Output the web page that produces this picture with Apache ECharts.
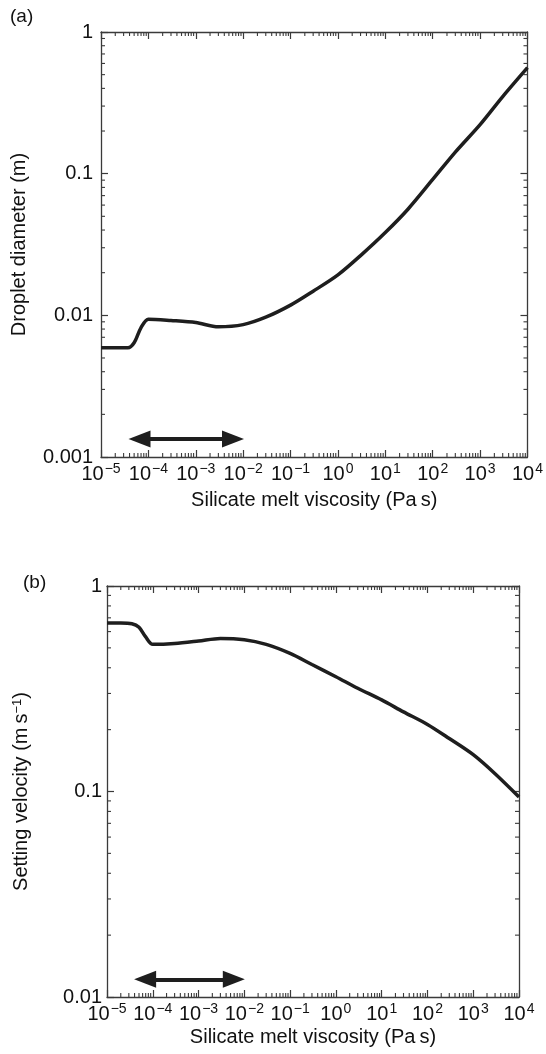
<!DOCTYPE html>
<html>
<head>
<meta charset="utf-8">
<script src="https://cdn.jsdelivr.net/npm/echarts@6/dist/echarts.min.js"></script>
<style>html,body{margin:0;padding:0;background:#fff;}#c{width:546px;height:1054px;}</style>
</head>
<body>
<div id="c"></div>
<script>
// ---- data ----
var topX = [1e-5, 2e-5, 3.7e-5, 5e-5, 7e-5, 1e-4, 3e-4, 1e-3, 3e-3, 1e-2, 3e-2, 1e-1, 3e-1, 1, 3, 10, 30, 100, 300, 1000, 3000, 1e4];
var topY = [0.0059, 0.0059, 0.0059, 0.0064, 0.0082, 0.0094, 0.0092, 0.0089, 0.0083, 0.0086, 0.0097, 0.0118, 0.0148, 0.0193, 0.0264, 0.0384, 0.0561, 0.091, 0.142, 0.222, 0.35, 0.56];
var botX = [1e-5, 2e-5, 3.5e-5, 5e-5, 7e-5, 1e-4, 3e-4, 1e-3, 3e-3, 1e-2, 3e-2, 1e-1, 3e-1, 1, 3, 10, 30, 100, 300, 1000, 3000, 1e4];
var botY = [0.66, 0.66, 0.655, 0.63, 0.565, 0.52, 0.525, 0.54, 0.556, 0.548, 0.52, 0.47, 0.415, 0.362, 0.318, 0.279, 0.244, 0.212, 0.181, 0.151, 0.122, 0.094];
// arrows (range annotations, head centres): [xStart, xEnd, y]
var topArrow = [6.5e-5, 6.1e-3, 0.00134];
var botArrow = [6.8e-5, 5.9e-3, 0.0122];
// axis ranges and tick labels
var xRange = [1e-5, 1e4];
var topYRange = [0.001, 1];
var botYRange = [0.01, 1];
var xTickExps = [-5, -4, -3, -2, -1, 0, 1, 2, 3, 4];
var topYTickLabels = ['0.001', '0.01', '0.1', '1'];
var botYTickLabels = ['0.01', '0.1', '1'];
var minorMult = [2, 3, 4, 5, 6, 7, 8, 9];

function minorVals(lo, hi) {
  var out = [];
  for (var e = Math.round(Math.log10(lo)); e < Math.round(Math.log10(hi)); e++) {
    for (var i = 0; i < minorMult.length; i++) out.push(minorMult[i] * Math.pow(10, e));
  }
  return out;
}

var FONT = 'Liberation Sans';
var AX = '#3a3a3a';
var chart = echarts.init(document.getElementById('c'));

function xLabel(v) {
  var e = Math.round(Math.log10(v));
  var s = e < 0 ? '\u2212' + (-e) : '' + e;
  return '{b|10}{s|' + s + '}';
}
function yLabelFor(labels, range) {
  return function (v) {
    var e = Math.round(Math.log10(v)) - Math.round(Math.log10(range[0]));
    return labels[e] !== undefined ? labels[e] : '';
  };
}

function xAxis(grid, pos, show, nameGap) {
  return {
    type: 'log', logBase: 10, gridIndex: grid, position: pos,
    min: xRange[0], max: xRange[1], interval: 1,
    name: show ? 'Silicate melt viscosity (Pa\u2009s)' : '', nameLocation: 'middle', nameGap: nameGap,
    nameTextStyle: { fontFamily: FONT, fontSize: 20, color: '#111' },
    axisLine: { show: true, onZero: false, lineStyle: { color: AX, width: 1.3 } },
    axisTick: { show: true, inside: true, length: 7, lineStyle: { color: AX, width: 1.2 } },
    axisLabel: {
      show: show, margin: 5, formatter: xLabel,
      rich: {
        b: { fontFamily: FONT, fontSize: 20, color: '#111', lineHeight: 22, verticalAlign: 'bottom' },
        s: { fontFamily: FONT, fontSize: 14, color: '#111', lineHeight: 14, verticalAlign: 'top', padding: [0, 0, 0, 1] }
      }
    },
    splitLine: { show: false }, minorTick: { show: false }
  };
}
function yAxis(grid, pos, show, range, labels, name, nameGap, margin) {
  return {
    type: 'log', logBase: 10, gridIndex: grid, position: pos,
    min: range[0], max: range[1], interval: 1,
    name: show ? name : '', nameLocation: 'middle', nameGap: nameGap,
    nameTextStyle: {
      fontFamily: FONT, fontSize: 20, color: '#111',
      rich: { n: { fontFamily: FONT, fontSize: 20, color: '#111' }, s: { fontFamily: FONT, fontSize: 13, color: '#111', verticalAlign: 'top', lineHeight: 12 } }
    },
    axisLine: { show: true, onZero: false, lineStyle: { color: AX, width: 1.3 } },
    axisTick: { show: true, inside: true, length: 7, lineStyle: { color: AX, width: 1.2 } },
    axisLabel: { show: show, margin: margin, fontFamily: FONT, fontSize: 20, color: '#111', formatter: yLabelFor(labels, range) },
    splitLine: { show: false }, minorTick: { show: false }
  };
}

function minorX(xi, yi, yr) {
  return {
    type: 'custom', xAxisIndex: xi, yAxisIndex: yi, silent: true, clip: false, z: 5,
    data: minorVals(xRange[0], xRange[1]).map(function (v) { return [v, yr[0]]; }),
    renderItem: function (p, api) {
      var v = api.value(0);
      var a = api.coord([v, yr[0]]), b = api.coord([v, yr[1]]);
      var st = { stroke: AX, lineWidth: 1.1 };
      return { type: 'group', children: [
        { type: 'line', shape: { x1: a[0], y1: a[1], x2: a[0], y2: a[1] - 4 }, style: st },
        { type: 'line', shape: { x1: b[0], y1: b[1], x2: b[0], y2: b[1] + 4 }, style: st }
      ] };
    }
  };
}
function minorY(xi, yi, yr) {
  return {
    type: 'custom', xAxisIndex: xi, yAxisIndex: yi, silent: true, clip: false, z: 5,
    data: minorVals(yr[0], yr[1]).map(function (v) { return [xRange[0], v]; }),
    renderItem: function (p, api) {
      var v = api.value(1);
      var a = api.coord([xRange[0], v]), b = api.coord([xRange[1], v]);
      var st = { stroke: AX, lineWidth: 1.1 };
      return { type: 'group', children: [
        { type: 'line', shape: { x1: a[0], y1: a[1], x2: a[0] + 4, y2: a[1] }, style: st },
        { type: 'line', shape: { x1: b[0], y1: b[1], x2: b[0] - 4, y2: b[1] }, style: st }
      ] };
    }
  };
}
function curve(xi, yi, xs, ys, arrow) {
  return {
    type: 'line', xAxisIndex: xi, yAxisIndex: yi, smooth: 0.3, showSymbol: false, symbol: 'none',
    lineStyle: { color: '#1e1e1e', width: 3.5 }, z: 10, silent: true,
    data: xs.map(function (x, i) { return [x, ys[i]]; }),
    markLine: {
      silent: true, symbol: ['triangle', 'triangle'], symbolSize: [17, 22],
      label: { show: false },
      lineStyle: { color: '#1e1e1e', width: 4, type: 'solid' },
      data: [[{ coord: [arrow[0], arrow[2]] }, { coord: [arrow[1], arrow[2]] }]]
    }
  };
}

chart.setOption({
  animation: false,
  backgroundColor: '#fff',
  grid: [
    { left: 101, top: 32, width: 427, height: 425 },
    { left: 107, top: 586, width: 412, height: 411 }
  ],
  xAxis: [xAxis(0, 'bottom', true, 33), xAxis(0, 'top', false, 0), xAxis(1, 'bottom', true, 30), xAxis(1, 'top', false, 0)],
  yAxis: [
    yAxis(0, 'left', true, topYRange, topYTickLabels, 'Droplet diameter (m)', 72, 8), yAxis(0, 'right', false, topYRange, topYTickLabels, '', 0, 8),
    yAxis(1, 'left', true, botYRange, botYTickLabels, '{n|Setting velocity (m\u2009s}{s|\u22121}{n|)}', 76, 5), yAxis(1, 'right', false, botYRange, botYTickLabels, '', 0, 5)
  ],
  graphic: [
    { type: 'text', left: 10, top: 7, style: { text: '(a)', fontFamily: FONT, fontSize: 19, fill: '#111' } },
    { type: 'text', left: 23, top: 573, style: { text: '(b)', fontFamily: FONT, fontSize: 19, fill: '#111' } }
  ],
  series: [
    curve(0, 0, topX, topY, topArrow),
    minorX(0, 0, topYRange), minorY(0, 0, topYRange),
    curve(2, 2, botX, botY, botArrow),
    minorX(2, 2, botYRange), minorY(2, 2, botYRange)
  ]
});
</script>
</body>
</html>
